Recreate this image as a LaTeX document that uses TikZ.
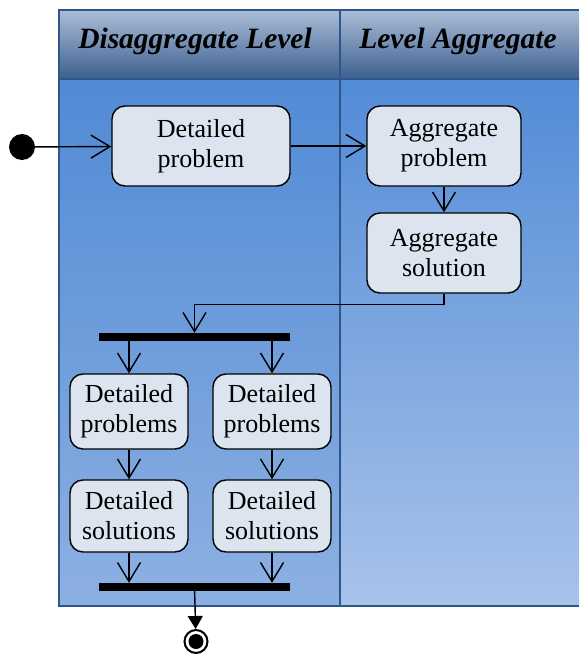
\documentclass[tikz,border=0pt]{standalone}
\usepackage{fontspec}
\setmainfont{Liberation Serif}
\usetikzlibrary{arrows.meta}
\definecolor{hdTop}{HTML}{AABDD6}
\definecolor{hdBot}{HTML}{3D6090}
\definecolor{laneTopL}{HTML}{518AD5}
\definecolor{laneBotL}{HTML}{8DB0E2}
\definecolor{laneTopR}{HTML}{528BD6}
\definecolor{laneBotR}{HTML}{A8C3EA}
\definecolor{laneLine}{HTML}{2E5688}
\definecolor{actfill}{HTML}{DCE4F0}
\begin{document}
\begin{tikzpicture}[x=1pt,y=-1pt,
  act/.style={draw=black, line width=1.4pt, fill=actfill, rounded corners=13pt,
    align=center, font=\fontsize{26}{30}\selectfont, inner sep=0pt},
  flow/.style={draw=black, line width=1.4pt,
    -{Straight Barb[length=19pt,width=23pt,line width=1.4pt]}},
  bar/.style={fill=black, draw=none, minimum width=191pt, minimum height=8pt, inner sep=0pt},
  lane/.style={draw=laneLine, line width=1.5pt},
  hd/.style={font=\fontsize{29.5}{32}\selectfont\bfseries\itshape, inner sep=0pt}]
\useasboundingbox (0,0) rectangle (579,654);
% swimlanes
\shade[top color=laneTopL, bottom color=laneBotL] (59,79) rectangle (340,606);
\shade[top color=laneTopR, bottom color=laneBotR] (340,79) rectangle (579,606);
\shade[top color=hdTop, bottom color=hdBot] (59,10) rectangle (579,79);
\draw[lane] (579,10) -- (59,10) -- (59,606) -- (579,606);
\draw[lane] (59,79) -- (579,79);
\draw[lane] (340,10) -- (340,606);
\node[hd] (h1) at (195,41) {Disaggregate Level};
\node[hd] (h2) at (458,41) {Level Aggregate};
% nodes
\node[circle, fill=black, minimum size=26pt, inner sep=0pt] (init) at (22,147) {};
\node[act, minimum width=178pt, minimum height=80pt] (dp) at (201,146) {Detailed\\problem};
\node[act, minimum width=154pt, minimum height=80pt] (ap) at (444,146) {Aggregate\\problem};
\node[act, minimum width=154pt, minimum height=80pt] (as) at (444,253) {Aggregate\\solution};
\node[bar] (fork) at (194.5,337) {};
\node[act, minimum width=118pt, minimum height=75pt] (dp1) at (129,411.5) {Detailed\\problems};
\node[act, minimum width=118pt, minimum height=75pt] (dp2) at (272,411.5) {Detailed\\problems};
\node[act, minimum width=118pt, minimum height=72pt] (ds1) at (129,516) {Detailed\\solutions};
\node[act, minimum width=118pt, minimum height=72pt] (ds2) at (272,516) {Detailed\\solutions};
\node[bar] (join) at (194.5,587) {};
\node[circle, draw=black, line width=2pt, fill=white, minimum size=23pt, inner sep=0pt] (final) at (196,641.5) {};
\fill[black] (final.center) circle (7.5pt);
% connectors
\draw[flow] (init) -- (dp);
\draw[flow] (dp) -- (ap);
\draw[flow] (ap) -- (as);
\draw[flow] (as.south) -- ++(0,11) -| (fork.north);
\draw[flow] (fork.south -| dp1) -- (dp1);
\draw[flow] (fork.south -| dp2) -- (dp2);
\draw[flow] (dp1) -- (ds1);
\draw[flow] (dp2) -- (ds2);
\draw[flow] (ds1) -- (join.north -| ds1);
\draw[flow] (ds2) -- (join.north -| ds2);
\draw[line width=1.4pt, -{Triangle[length=13pt,width=15pt]}] (join) -- (final);
\end{tikzpicture}
\end{document}
